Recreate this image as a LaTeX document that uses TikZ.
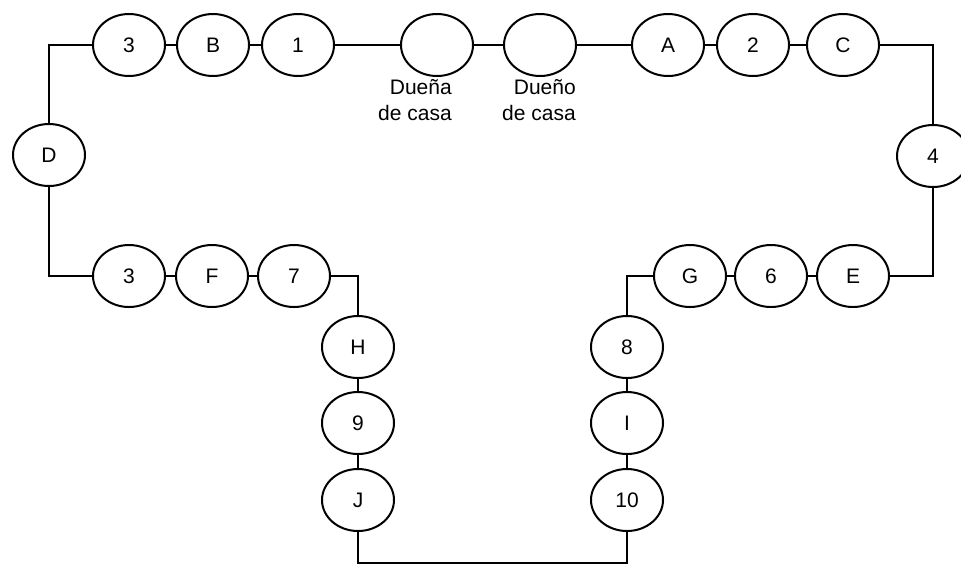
\documentclass[tikz,border=0pt]{standalone}
\usepackage{fontspec}
\setmainfont{Liberation Sans}
\usetikzlibrary{shapes.geometric}

\begin{document}
\begin{tikzpicture}[x=0.5pt,y=-0.5pt,
    hv/.style={to path={-| (\tikztotarget)}},
    vh/.style={to path={|- (\tikztotarget)}}]
\useasboundingbox (0,0) rectangle (961,569);
\begin{scope}[every node/.style={ellipse,draw,line width=1pt,minimum width=36pt,
    minimum height=31pt,inner sep=0pt,font=\fontsize{10.5}{12.6}\selectfont}]
    \node (t3) at (129,45) {3};
    \node (B) at (213,45) {B};
    \node (n1) at (298,45) {1};
    \node (dna) at (437,45) {};
    \node (dno) at (540,45) {};
    \node (A) at (668,45) {A};
    \node (n2) at (753,45) {2};
    \node (C) at (843,45) {C};
    \node (D) at (49,155) {D};
    \node (n4) at (933,156) {4};
    \node (b3) at (129,276) {3};
    \node (F) at (212,276) {F};
    \node (n7) at (294,276) {7};
    \node (G) at (690,276) {G};
    \node (n6) at (771,276) {6};
    \node (E) at (853,276) {E};
    \node (H) at (358,347) {H};
    \node (n9) at (358,423) {9};
    \node (J) at (358,500) {J};
    \node (n8) at (627,347) {8};
    \node (I) at (627,423) {I};
    \node (n10) at (627,500) {10};
\end{scope}

\begin{scope}[every node/.style={align=right,inner sep=0pt,
    font=\fontsize{10.5}{12.6}\selectfont}]
    \node (dnalabel) at (415,100) {Dueña\\de casa};
    \node (dnolabel) at (539,100) {Dueño\\de casa};
\end{scope}

\coordinate (base) at (492,563);

\begin{scope}[every edge/.style={draw=black,line width=1pt}]
              \path (t3) edge (B);
              \path (B) edge (n1);
              \path (n1) edge (dna);
              \path (dna) edge (dno);
              \path (dno) edge (A);
              \path (A) edge (n2);
              \path (n2) edge (C);
              \path (C) edge[hv] (n4);
              \path (n4) edge[vh] (E);
              \path (E) edge (n6);
              \path (n6) edge (G);
              \path (G) edge[hv] (n8);
              \path (n8) edge (I);
              \path (I) edge (n10);
              \path (base) edge[hv] (n10);
              \path (J) edge[vh] (base);
              \path (n9) edge (J);
              \path (H) edge (n9);
              \path (n7) edge[hv] (H);
              \path (F) edge (n7);
              \path (b3) edge (F);
              \path (D) edge[vh] (b3);
              \path (t3) edge[hv] (D);
\end{scope}
\end{tikzpicture}
\end{document}
